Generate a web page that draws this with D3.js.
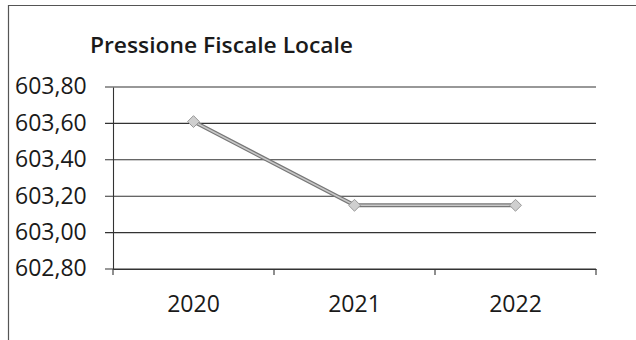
<!DOCTYPE html>
<html><head><meta charset="utf-8">
<script src="https://cdn.jsdelivr.net/npm/d3@7"></script>
<style>body{margin:0;background:#fff}svg{display:block}text{font-family:"Open Sans",sans-serif;fill:#1a1a1a}</style>
</head><body><svg id="c" width="636" height="340"></svg>
<script>
const title = "Pressione Fiscale Locale";
const categories = ["2020","2021","2022"];
const values = [603.61, 603.15, 603.15];
const yTicks = [602.80, 603.00, 603.20, 603.40, 603.60, 603.80];

const svg = d3.select("#c");
const m = {left:113, right:596, top:87, bottom:269};
const x = d3.scaleBand().domain(categories).range([m.left, m.right]);
const y = d3.scaleLinear().domain([602.8, 603.8]).range([m.bottom, m.top]);
const fmt = v => d3.format(".2f")(v).replace(".", ",");
const FONT = "'Open Sans',sans-serif";

// frame
svg.append("line").attr("x1",8).attr("x2",636).attr("y1",5.5).attr("y2",5.5).attr("stroke","#555").attr("stroke-width",1.2);
svg.append("line").attr("x1",8.5).attr("x2",8.5).attr("y1",5).attr("y2",340).attr("stroke","#555").attr("stroke-width",1.2);

svg.append("text").attr("x",90).attr("y",53).attr("font-size",22).attr("font-weight",600)
  .attr("textLength",263).attr("lengthAdjust","spacingAndGlyphs").text(title);

// gridlines
svg.append("g").selectAll("line").data(yTicks).join("line")
  .attr("x1",m.left-8).attr("x2",m.right).attr("y1",d=>y(d)).attr("y2",d=>y(d))
  .attr("stroke","#333").attr("stroke-width",1.1);

// y axis
const ya = svg.append("g").attr("transform",`translate(${m.left},0)`)
  .call(d3.axisLeft(y).tickValues(yTicks).tickFormat(fmt).tickSize(0).tickPadding(0));
ya.select(".domain").attr("stroke","#333").attr("stroke-width",1.1);
ya.selectAll("text").attr("x",-98).attr("dy","0.3em").attr("text-anchor","start").attr("font-size",23).attr("font-family",FONT).attr("fill","#1a1a1a");

// x axis
const xa = svg.append("g").attr("transform",`translate(0,${m.bottom})`)
  .call(d3.axisBottom(x).tickSize(0).tickPadding(0));
xa.select(".domain").attr("stroke","#333").attr("stroke-width",1.1);
xa.selectAll("text").attr("y",43).attr("dy",0).attr("font-size",23).attr("font-family",FONT).attr("fill","#1a1a1a");
const bounds = categories.map(c=>x(c)).concat([m.right]);
svg.append("g").selectAll("line").data(bounds).join("line")
  .attr("x1",d=>d).attr("x2",d=>d).attr("y1",m.bottom).attr("y2",m.bottom+6)
  .attr("stroke","#333").attr("stroke-width",1.1);

// line
const pts = categories.map((c,i)=>[x(c)+x.bandwidth()/2, y(values[i])]);
const line = d3.line();
svg.append("path").attr("d",line(pts)).attr("fill","none").attr("stroke","#777").attr("stroke-width",4);
svg.append("path").attr("d",line(pts)).attr("fill","none").attr("stroke","#c8c8c8").attr("stroke-width",1.6);

// markers
svg.append("g").selectAll("path").data(pts).join("path")
  .attr("transform",d=>`translate(${d[0]},${d[1]})`)
  .attr("d",d3.symbol(d3.symbolDiamond2,90))
  .attr("fill","#cfcfcf").attr("stroke","#999").attr("stroke-width",1);
</script></body></html>
